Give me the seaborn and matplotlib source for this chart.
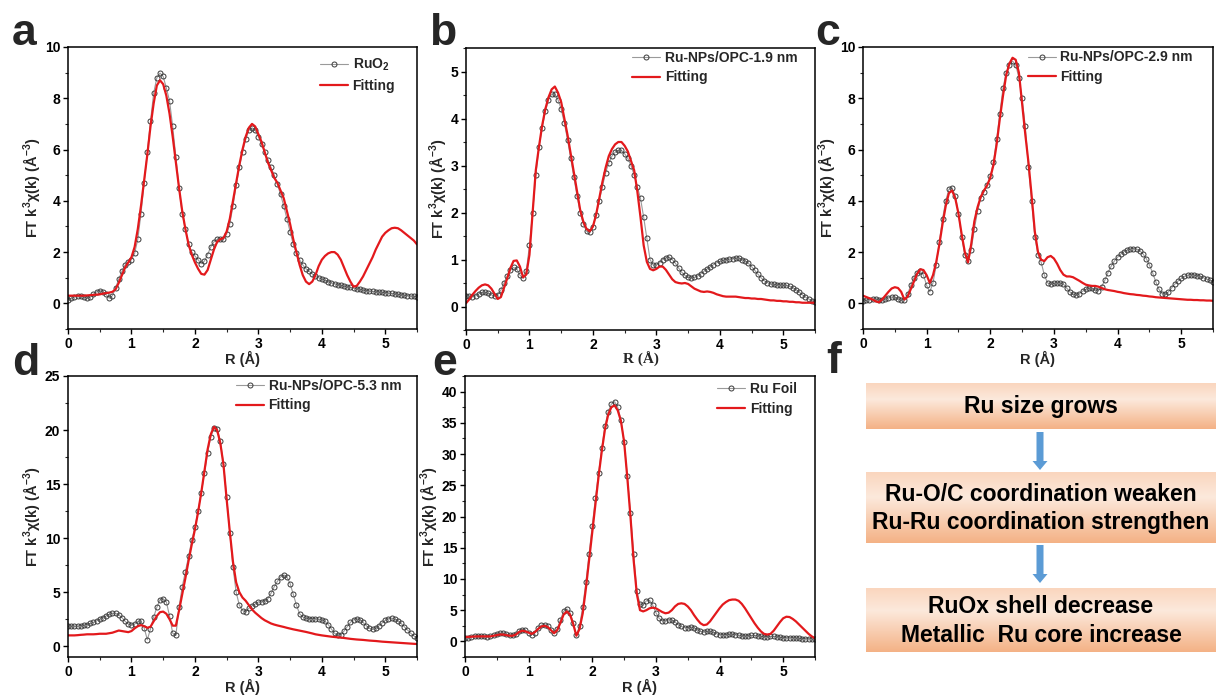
import numpy as np
import matplotlib
matplotlib.use("Agg")
import matplotlib.pyplot as plt
import seaborn as sns
from matplotlib.lines import Line2D
from matplotlib.patches import FancyArrow
from matplotlib.ticker import MultipleLocator

# ---------------- data (R grid 0 .. 5.5 A, step 0.05) ----------------
R = np.round(np.arange(0, 5.501, 0.05), 2)

data_a = [0.15,0.20,0.25,0.30,0.30,0.25,0.20,0.25,0.35,0.45,
          0.50,0.45,0.35,0.20,0.30,0.60,0.95,1.25,1.50,1.60,
          1.70,1.95,2.50,3.50,4.70,5.90,7.10,8.20,8.80,8.98,
          8.85,8.40,7.90,6.90,5.70,4.50,3.50,2.90,2.30,2.00,
          1.85,1.70,1.55,1.65,1.90,2.20,2.40,2.50,2.50,2.50,
          2.70,3.10,3.80,4.60,5.30,5.90,6.40,6.75,6.85,6.75,
          6.50,6.20,5.90,5.60,5.30,5.00,4.65,4.25,3.80,3.30,
          2.80,2.30,1.95,1.70,1.50,1.35,1.25,1.15,1.05,1.00,
          0.95,0.90,0.85,0.80,0.77,0.73,0.70,0.67,0.64,0.62,
          0.60,0.57,0.55,0.52,0.50,0.48,0.47,0.45,0.44,0.43,
          0.42,0.40,0.39,0.37,0.35,0.33,0.32,0.30,0.29,0.27,
          0.25]
fit_a = [0.30,0.30,0.30,0.30,0.30,0.30,0.31,0.32,0.33,0.34,
         0.35,0.38,0.40,0.42,0.45,0.55,0.80,1.10,1.40,1.60,
         1.80,2.20,2.90,3.80,4.80,5.80,6.90,7.80,8.50,8.70,
         8.55,8.10,7.40,6.50,5.50,4.50,3.60,2.90,2.30,1.90,
         1.60,1.35,1.15,1.12,1.30,1.70,2.10,2.40,2.50,2.55,
         2.80,3.30,4.00,4.70,5.40,6.00,6.50,6.85,7.00,6.90,
         6.60,6.30,5.90,5.50,5.20,4.90,4.70,4.40,4.10,3.60,
         3.10,2.50,2.00,1.50,1.10,0.85,0.75,0.85,1.10,1.45,
         1.70,1.85,1.95,2.00,2.00,1.90,1.70,1.40,1.10,0.85,
         0.65,0.68,0.85,1.05,1.30,1.55,1.80,2.10,2.35,2.60,
         2.75,2.85,2.93,2.95,2.93,2.85,2.75,2.65,2.55,2.45,
         2.30]

data_b = [0.22,0.22,0.21,0.23,0.27,0.30,0.30,0.28,0.25,0.22,
          0.25,0.35,0.50,0.65,0.77,0.83,0.80,0.67,0.60,0.75,
          1.30,2.00,2.80,3.40,3.80,4.15,4.40,4.52,4.52,4.40,
          4.20,3.90,3.55,3.15,2.75,2.35,2.00,1.75,1.60,1.58,
          1.70,1.95,2.25,2.55,2.85,3.05,3.20,3.28,3.32,3.32,
          3.25,3.15,3.00,2.80,2.55,2.30,1.90,1.45,1.00,0.88,
          0.88,0.93,1.00,1.04,1.05,1.00,0.92,0.82,0.73,0.66,
          0.62,0.61,0.62,0.65,0.70,0.75,0.80,0.85,0.89,0.93,
          0.96,0.98,1.00,1.01,1.02,1.03,1.03,1.00,0.97,0.92,
          0.85,0.77,0.69,0.61,0.55,0.51,0.48,0.47,0.46,0.46,
          0.45,0.45,0.43,0.40,0.36,0.31,0.25,0.20,0.16,0.12,
          0.10]
fit_b = [0.07,0.15,0.25,0.33,0.40,0.45,0.47,0.45,0.38,0.27,
         0.16,0.20,0.40,0.60,0.82,0.97,0.98,0.85,0.62,0.68,
         1.10,2.00,2.90,3.40,3.85,4.20,4.45,4.62,4.68,4.55,
         4.35,4.00,3.65,3.25,2.85,2.45,2.05,1.80,1.65,1.60,
         1.70,1.95,2.30,2.65,2.95,3.20,3.35,3.45,3.50,3.50,
         3.42,3.30,3.10,2.90,2.45,1.90,1.30,0.95,0.80,0.77,
         0.80,0.85,0.85,0.78,0.68,0.58,0.52,0.50,0.49,0.50,
         0.48,0.43,0.38,0.35,0.32,0.31,0.32,0.31,0.29,0.26,
         0.24,0.22,0.21,0.21,0.21,0.21,0.20,0.19,0.18,0.18,
         0.17,0.17,0.16,0.16,0.15,0.14,0.13,0.13,0.12,0.12,
         0.11,0.11,0.10,0.10,0.09,0.09,0.08,0.08,0.08,0.08,
         0.08]

data_c = [0.10,0.12,0.15,0.17,0.17,0.15,0.15,0.18,0.22,0.25,
          0.23,0.18,0.12,0.15,0.35,0.70,1.00,1.20,1.25,1.10,
          0.70,0.45,0.80,1.50,2.40,3.30,4.00,4.45,4.50,4.20,
          3.50,2.60,1.90,1.65,2.10,2.90,3.60,4.10,4.35,4.60,
          4.95,5.50,6.40,7.40,8.40,9.00,9.30,9.45,9.30,8.80,
          8.00,6.90,5.30,4.00,2.60,1.90,1.60,1.10,0.80,0.75,
          0.78,0.80,0.80,0.75,0.60,0.45,0.35,0.32,0.38,0.47,
          0.55,0.60,0.58,0.52,0.50,0.65,0.90,1.20,1.45,1.65,
          1.80,1.92,2.02,2.08,2.12,2.14,2.12,2.05,1.93,1.75,
          1.50,1.20,0.85,0.55,0.38,0.35,0.45,0.60,0.75,0.87,
          0.97,1.05,1.10,1.12,1.11,1.08,1.05,1.00,0.95,0.90,
          0.85]
fit_c = [0.30,0.25,0.20,0.15,0.08,0.04,0.15,0.30,0.45,0.58,
         0.63,0.60,0.45,0.15,0.25,0.55,0.85,1.15,1.33,1.30,
         1.10,0.80,1.10,1.60,2.30,3.10,3.80,4.30,4.40,4.10,
         3.50,2.70,2.00,1.60,2.30,3.20,3.75,4.15,4.40,4.60,
         4.90,5.40,6.20,7.20,8.10,8.90,9.35,9.58,9.50,9.00,
         7.80,6.60,5.50,4.20,2.80,2.00,1.70,1.65,1.80,1.85,
         1.75,1.55,1.30,1.12,1.05,1.05,1.02,0.95,0.88,0.80,
         0.73,0.70,0.68,0.68,0.65,0.60,0.55,0.52,0.50,0.48,
         0.45,0.43,0.40,0.38,0.36,0.35,0.33,0.32,0.30,0.29,
         0.27,0.26,0.24,0.23,0.22,0.21,0.20,0.19,0.18,0.17,
         0.16,0.15,0.14,0.14,0.13,0.13,0.12,0.12,0.11,0.11,
         0.10]

data_d = [1.85,1.85,1.85,1.85,1.90,1.95,2.00,2.10,2.20,2.35,
          2.50,2.65,2.80,2.95,3.05,3.05,2.90,2.65,2.30,2.05,
          1.95,2.05,2.30,2.30,1.70,0.60,1.60,2.70,3.60,4.30,
          4.40,4.10,2.80,1.20,1.00,3.60,5.50,6.90,8.30,9.80,
          11.0,12.5,14.2,16.0,17.9,19.4,20.2,20.1,19.0,16.9,
          13.8,10.5,7.30,5.00,3.80,3.30,3.20,3.50,3.75,3.90,
          4.10,4.10,4.20,4.40,4.90,5.50,6.00,6.40,6.60,6.40,
          5.80,4.80,3.80,3.00,2.70,2.60,2.55,2.55,2.55,2.50,
          2.45,2.30,2.00,1.60,1.20,1.00,1.05,1.40,1.80,2.20,
          2.45,2.55,2.45,2.20,1.90,1.65,1.55,1.65,1.90,2.15,
          2.40,2.55,2.60,2.50,2.35,2.10,1.80,1.50,1.20,0.95,
          0.80]
fit_d = [1.00,1.00,1.00,1.02,1.05,1.07,1.10,1.10,1.10,1.12,
         1.15,1.15,1.15,1.20,1.25,1.35,1.45,1.40,1.35,1.30,
         1.40,1.65,1.85,1.95,1.85,1.70,1.80,2.30,2.80,3.15,
         3.20,3.00,2.50,1.90,1.90,3.30,4.80,6.30,7.90,9.40,
         10.8,12.4,14.2,16.2,18.2,19.6,20.3,20.0,18.8,16.8,
         13.6,10.6,7.80,5.90,5.00,4.50,4.20,3.80,3.40,3.10,
         2.85,2.60,2.40,2.25,2.10,2.00,1.92,1.85,1.78,1.70,
         1.63,1.56,1.50,1.44,1.38,1.32,1.25,1.18,1.10,1.05,
         1.00,0.96,0.92,0.88,0.85,0.82,0.80,0.76,0.72,0.68,
         0.65,0.62,0.60,0.58,0.55,0.52,0.50,0.48,0.45,0.42,
         0.40,0.38,0.36,0.34,0.32,0.30,0.28,0.26,0.24,0.22,
         0.20]

data_e = [0.50,0.60,0.75,0.85,0.90,0.85,0.80,0.75,0.80,1.00,
          1.20,1.30,1.30,1.20,1.05,1.00,1.20,1.60,1.90,1.80,
          1.40,1.10,1.40,2.10,2.60,2.70,2.40,1.80,1.30,2.00,
          3.50,4.80,5.20,4.60,3.00,1.00,2.50,5.50,9.50,14.0,
          18.5,23.0,27.0,31.0,34.5,36.8,38.0,38.4,37.5,35.5,
          32.0,26.5,20.5,14.0,8.00,6.00,5.80,6.50,6.60,5.80,
          4.60,3.70,3.30,3.30,3.50,3.40,3.10,2.70,2.40,2.20,
          2.20,2.30,2.20,1.90,1.60,1.50,1.60,1.60,1.45,1.25,
          1.10,1.05,1.10,1.15,1.15,1.10,1.00,0.90,0.85,0.90,
          0.95,0.95,0.90,0.80,0.75,0.75,0.80,0.80,0.75,0.65,
          0.60,0.60,0.60,0.60,0.55,0.50,0.45,0.45,0.45,0.40,
          0.35]
fit_e = [0.70,0.72,0.75,0.78,0.80,0.80,0.80,0.80,0.80,0.90,
         1.00,1.10,1.10,1.00,0.90,0.90,1.10,1.50,1.70,1.60,
         1.40,1.20,1.50,2.00,2.40,2.50,2.30,1.80,1.30,1.80,
         3.00,4.30,4.80,4.30,2.80,0.90,2.00,4.50,8.50,13.0,
         17.5,22.0,26.5,30.5,34.0,36.3,37.5,37.8,37.0,35.3,
         32.0,26.3,20.0,13.0,7.60,5.00,4.80,5.00,5.30,5.40,
         5.30,5.00,4.70,4.50,4.60,5.00,5.60,6.00,6.10,6.00,
         5.60,5.00,4.20,3.50,2.90,2.60,2.70,3.20,3.90,4.60,
         5.30,5.90,6.30,6.60,6.70,6.70,6.50,6.00,5.30,4.50,
         3.70,2.90,2.20,1.60,1.20,1.10,1.20,1.70,2.40,3.10,
         3.70,3.95,3.90,3.60,3.20,2.70,2.20,1.70,1.20,0.80,
         0.50]

samples = ["RuO$_2$", "Ru-NPs/OPC-1.9 nm", "Ru-NPs/OPC-2.9 nm",
           "Ru-NPs/OPC-5.3 nm", "Ru Foil"]
fit_label = "Fitting"
panel_letters = ["a", "b", "c", "d", "e", "f"]
flow_texts = ["Ru size grows",
              "Ru-O/C coordination weaken\nRu-Ru coordination strengthen",
              "RuOx shell decrease\nMetallic  Ru core increase"]

# ---------------- style ----------------
sns.set_theme(style="ticks")
plt.rcParams["font.family"] = ["Liberation Sans", "DejaVu Sans"]
plt.rcParams["font.weight"] = "bold"
plt.rcParams["axes.labelweight"] = "bold"
plt.rcParams["mathtext.fontset"] = "custom"
plt.rcParams["mathtext.rm"] = "Liberation Sans:bold"
plt.rcParams["mathtext.bf"] = "Liberation Sans:bold"
plt.rcParams["mathtext.it"] = "Liberation Sans:bold:italic"
plt.rcParams["mathtext.default"] = "rm"

W, H = 1217, 695
fig = plt.figure(figsize=(W / 100, H / 100), dpi=100)
fig.patch.set_facecolor("white")

RED = "#e3191c"
DATA_EDGE = "#3a3a3a"
DATA_LINE = "#9a9a9a"
MS = 3.6


def px_axes(l, t, r, b):
    return fig.add_axes([l / W, (H - b) / H, (r - l) / W, (b - t) / H])


panels = [
    (data_a, fit_a, (68, 47, 417, 329), (-1, 10), 2, 1, (0.722, 0.965)),
    (data_b, fit_b, (466, 48, 815, 330), (-0.5, 5.5), 1, 0.5, (0.476, 0.990)),
    (data_c, fit_c, (863, 47, 1213, 329), (-1, 10), 2, 1, (0.471, 0.988)),
    (data_d, fit_d, (68, 376, 417, 657), (-1, 25), 5, 2.5, (0.481, 0.990)),
    (data_e, fit_e, (465, 376, 815, 657), (-2.5, 42.5), 5, 2.5, (0.72, 0.978)),
]

for i, (dat, fit, box, ylim, ymaj, ymin, leg_xy) in enumerate(panels):
    ax = px_axes(*box)
    sns.lineplot(x=R, y=dat, ax=ax, color=DATA_LINE, lw=0.8, marker="o",
                 markersize=MS, markerfacecolor="none",
                 markeredgecolor=DATA_EDGE, markeredgewidth=0.7,
                 estimator=None, sort=False)
    sns.lineplot(x=R, y=fit, ax=ax, color=RED, lw=1.6,
                 estimator=None, sort=False)
    ax.set_xlim(0, 5.5)
    ax.set_ylim(*ylim)
    ax.xaxis.set_major_locator(MultipleLocator(1))
    ax.xaxis.set_minor_locator(MultipleLocator(0.5))
    ax.yaxis.set_major_locator(MultipleLocator(ymaj))
    ax.yaxis.set_minor_locator(MultipleLocator(ymin))
    ax.tick_params(which="major", direction="out", length=3.5, width=1.0,
                   labelsize=10, pad=2, colors="black")
    ax.tick_params(which="minor", direction="out", length=2, width=0.8)
    for lab in ax.get_xticklabels() + ax.get_yticklabels():
        lab.set_fontweight("bold")
    for s in ax.spines.values():
        s.set_linewidth(1.1)
        s.set_color("black")
        s.set_visible(True)
    if i == 1:
        ax.set_xlabel("R (Å)", fontsize=11, fontweight="bold",
                      family=["Liberation Serif"], labelpad=0)
    else:
        ax.set_xlabel("R (Å)", fontsize=10.5, fontweight="bold", labelpad=0)
    ax.set_ylabel("FT k$^{3}\\chi$(k) (Å$^{-3}$)", fontsize=10.5,
                  fontweight="bold", labelpad=2)
    handles = [Line2D([], [], color=DATA_LINE, lw=0.8, marker="o",
                      markersize=MS, markerfacecolor="none",
                      markeredgecolor=DATA_EDGE, markeredgewidth=0.7),
               Line2D([], [], color=RED, lw=1.6)]
    ax.legend(handles, [samples[i], fit_label], loc="upper left",
              bbox_to_anchor=leg_xy, frameon=False, borderpad=0,
              borderaxespad=0, handlelength=2.0, handletextpad=0.35,
              labelspacing=0.4, prop={"weight": "bold", "size": 10})

# ---------------- panel f: flow chart ----------------
axf = fig.add_axes([820 / W, 0, (W - 820) / W, 330 / H])
axf.set_axis_off()
top_c = np.array([250, 214, 190]) / 255
mid_c = np.array([252, 233, 220]) / 255
bot_c = np.array([244, 178, 134]) / 255
t = np.linspace(0, 1, 64)[:, None]
grad = np.where(t < 0.35, top_c + (mid_c - top_c) * (t / 0.35),
                mid_c + (bot_c - mid_c) * ((t - 0.35) / 0.65))
grad = grad[:, None, :].repeat(2, axis=1)

boxes = [(383, 429), (472, 543), (588, 652)]
for (y0, y1), txt in zip(boxes, flow_texts):
    axf.imshow(grad, extent=[866, 1216, y1, y0], aspect="auto",
               interpolation="bilinear", zorder=1)
    axf.text(1041, (y0 + y1) / 2 + 1, txt, ha="center", va="center",
             fontsize=16.5, fontweight="bold", linespacing=1.3, zorder=3,
             color="black")
for ys, ye in [(432, 470), (545, 583)]:
    axf.add_patch(FancyArrow(1040, ys, 0, ye - ys, width=7, head_width=15,
                             head_length=9, length_includes_head=True,
                             color="#5b9bd5", zorder=2, lw=0))
axf.set_xlim(820, W)
axf.set_ylim(H, 365)

# ---------------- panel letters ----------------
letter_pos = [(12, 45), (429, 45), (815, 45), (12, 375), (432, 375), (826, 373)]
for L, (x, y) in zip(panel_letters, letter_pos):
    fig.text(x / W, (H - y) / H, L, fontsize=32, fontweight="bold",
             va="baseline", ha="left")

fig.savefig("out.png", dpi=100, facecolor="white")
